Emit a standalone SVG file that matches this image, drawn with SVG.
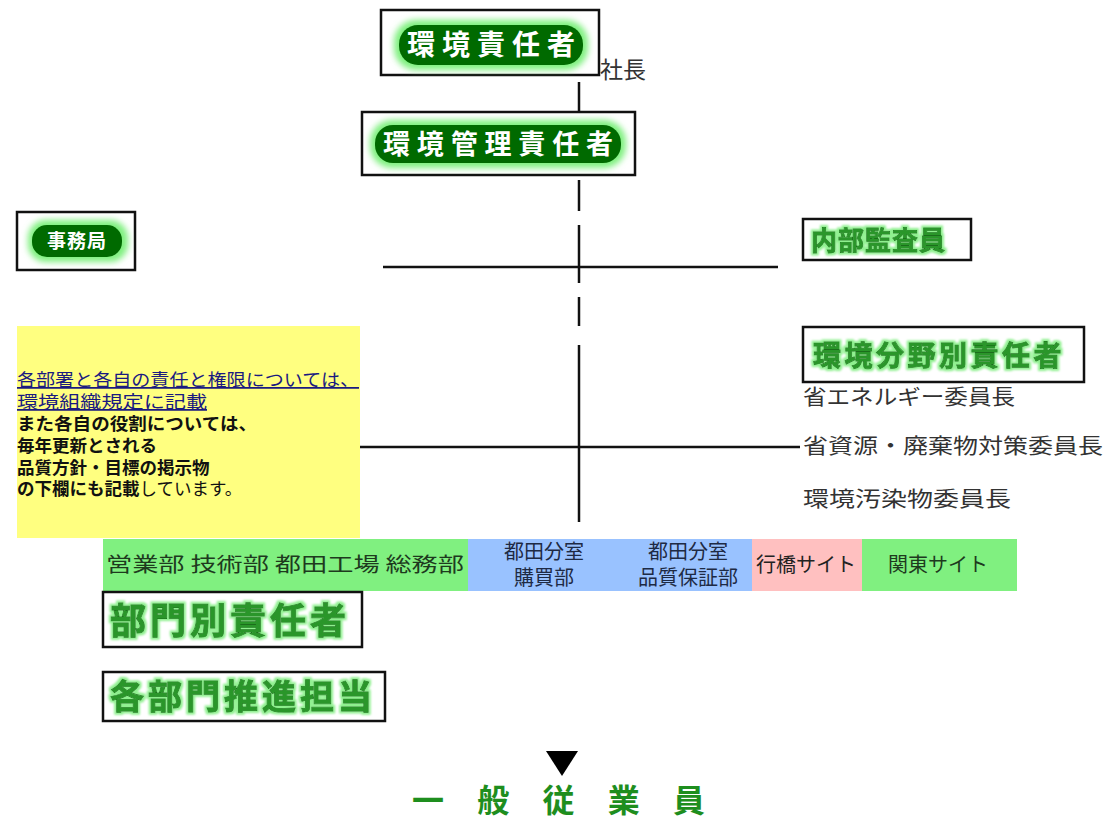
<svg xmlns="http://www.w3.org/2000/svg" width="1104" height="820" viewBox="0 0 1104 820">
<style>
text{font-family:"Noto Sans CJK JP","Noto Sans",sans-serif}
.box{fill:#fff;stroke:#111;stroke-width:2.5}
.pill{fill:#006a00}
.glow{fill:#7ef07e;filter:url(#blur)}
.pt{fill:#fff;font-weight:bold;text-anchor:middle}
.gt{fill:#2a962a;stroke:#1a6e1a;stroke-width:0.8;font-weight:bold;paint-order:stroke}
.line{stroke:#111;stroke-width:2.5;fill:none}
.cell{font-size:20px;text-anchor:middle}
.role{fill:#333;font-size:21px}
.note{font-size:17.5px}
</style>
<defs>
<filter id="blur" x="-20%" y="-40%" width="140%" height="180%"><feGaussianBlur stdDeviation="3"/></filter>
<filter id="tglow" x="-10%" y="-30%" width="120%" height="160%"><feMorphology operator="dilate" radius="1.5" in="SourceAlpha" result="d"/><feGaussianBlur in="d" stdDeviation="1.2" result="b"/><feFlood flood-color="#8ef08e"/><feComposite in2="b" operator="in" result="g"/><feMerge><feMergeNode in="g"/><feMergeNode in="SourceGraphic"/></feMerge></filter>
</defs>
<rect width="1104" height="820" fill="#fff"/>

<g id="connectors">
<line class="line" x1="579" y1="82" x2="579" y2="112"/>
<line class="line" x1="579" y1="180" x2="579" y2="211"/>
<line class="line" x1="579" y1="225" x2="579" y2="283"/>
<line class="line" x1="579" y1="297" x2="579" y2="326"/>
<line class="line" x1="579" y1="345" x2="579" y2="522"/>
<line class="line" x1="383" y1="267" x2="778" y2="267"/>
<line class="line" x1="360" y1="447" x2="800" y2="447"/>
<polygon points="546,751 578,751 562,776" fill="#000"/>
</g>

<g id="n-kankyo-sekinin">
<rect class="box" x="381" y="10" width="218" height="65"/>
<rect class="glow" x="394" y="20" width="194" height="50" rx="22"/>
<rect class="pill" x="399" y="25" width="184" height="40" rx="19"/>
<text class="pt" x="491" y="55" font-size="28" textLength="168" lengthAdjust="spacing">環境責任者</text>
<text x="600" y="78" font-size="23" fill="#333">社長</text>
</g>

<g id="n-kankyo-kanri">
<rect class="box" x="362" y="112" width="273" height="63"/>
<rect class="glow" x="370" y="120" width="256" height="48" rx="22"/>
<rect class="pill" x="375" y="125" width="246" height="38" rx="18"/>
<text class="pt" x="498" y="154" font-size="27" textLength="230" lengthAdjust="spacing">環境管理責任者</text>
</g>

<g id="n-jimukyoku">
<rect class="box" x="17" y="212" width="118" height="58"/>
<rect class="glow" x="28" y="220" width="100" height="42" rx="18"/>
<rect class="pill" x="32" y="225" width="90" height="32" rx="15"/>
<text class="pt" x="77" y="248" font-size="19" letter-spacing="1">事務局</text>
</g>

<g id="n-naibu">
<rect class="box" x="803" y="219" width="168" height="41"/>
<text class="gt" x="811" y="250" font-size="26" letter-spacing="1" filter="url(#tglow)">内部監査員</text>
</g>

<g id="n-bunya">
<rect class="box" x="803" y="327" width="281" height="55"/>
<text class="gt" x="813" y="366" font-size="28" letter-spacing="3.5" filter="url(#tglow)">環境分野別責任者</text>
<text class="role" x="803" y="404" textLength="212" lengthAdjust="spacingAndGlyphs">省エネルギー委員長</text>
<text class="role" x="803" y="453" textLength="300" lengthAdjust="spacingAndGlyphs">省資源・廃棄物対策委員長</text>
<text class="role" x="803" y="506" textLength="208" lengthAdjust="spacingAndGlyphs">環境汚染物委員長</text>
</g>

<g id="n-note">
<rect x="17" y="326" width="343" height="212" fill="#ffff80"/>
<text class="note" x="17" y="386" fill="#1a1a80" text-decoration="underline" textLength="342" lengthAdjust="spacingAndGlyphs">各部署と各自の責任と権限については、</text>
<text class="note" x="17" y="408" fill="#1a1a80" text-decoration="underline" textLength="190" lengthAdjust="spacingAndGlyphs">環境組織規定に記載</text>
<text class="note" x="17" y="430" fill="#111" font-weight="bold" textLength="240" lengthAdjust="spacingAndGlyphs">また各自の役割については、</text>
<text class="note" x="17" y="452" fill="#111" font-weight="bold">毎年更新とされる</text>
<text class="note" x="17" y="474" fill="#111" font-weight="bold">品質方針・目標の掲示物</text>
<text class="note" x="17" y="495" fill="#111"><tspan font-weight="bold">の下欄にも記載</tspan>しています。</text>
</g>

<g id="n-depts">
<rect x="103" y="539" width="365" height="52" fill="#80f080"/>
<text x="106" y="572" font-size="20" fill="#1e3a1e" textLength="358" lengthAdjust="spacingAndGlyphs">営業部 技術部 都田工場 総務部</text>
</g>
<g id="n-konyu">
<rect x="468" y="539" width="142" height="52" fill="#99c2ff"/>
<text class="cell" x="544" y="559" fill="#1e2a44">都田分室</text>
<text class="cell" x="544" y="585" fill="#1e2a44">購買部</text>
</g>
<g id="n-hinshitsu">
<rect x="610" y="539" width="142" height="52" fill="#99c2ff"/>
<text class="cell" x="688" y="559" fill="#1e2a44">都田分室</text>
<text class="cell" x="688" y="585" fill="#1e2a44">品質保証部</text>
</g>
<g id="n-yukuhashi">
<rect x="752" y="539" width="110" height="52" fill="#ffc0c0"/>
<text class="cell" x="806" y="572" fill="#222">行橋サイト</text>
</g>
<g id="n-kanto">
<rect x="862" y="539" width="155" height="52" fill="#80f080"/>
<text class="cell" x="938" y="572" fill="#1e3a1e">関東サイト</text>
</g>

<g id="n-bumon">
<rect class="box" x="103" y="592" width="259" height="55"/>
<text class="gt" x="110" y="634" font-size="36" letter-spacing="4" filter="url(#tglow)">部門別責任者</text>
</g>

<g id="n-suishin">
<rect class="box" x="103" y="672" width="282" height="49"/>
<text class="gt" x="110" y="709" font-size="34" letter-spacing="4" filter="url(#tglow)">各部門推進担当</text>
</g>

<g id="n-ippan">
<text x="412" y="812" font-size="32" fill="#1e8e1e" font-weight="bold" textLength="293" lengthAdjust="spacing">一般従業員</text>
</g>
</svg>
